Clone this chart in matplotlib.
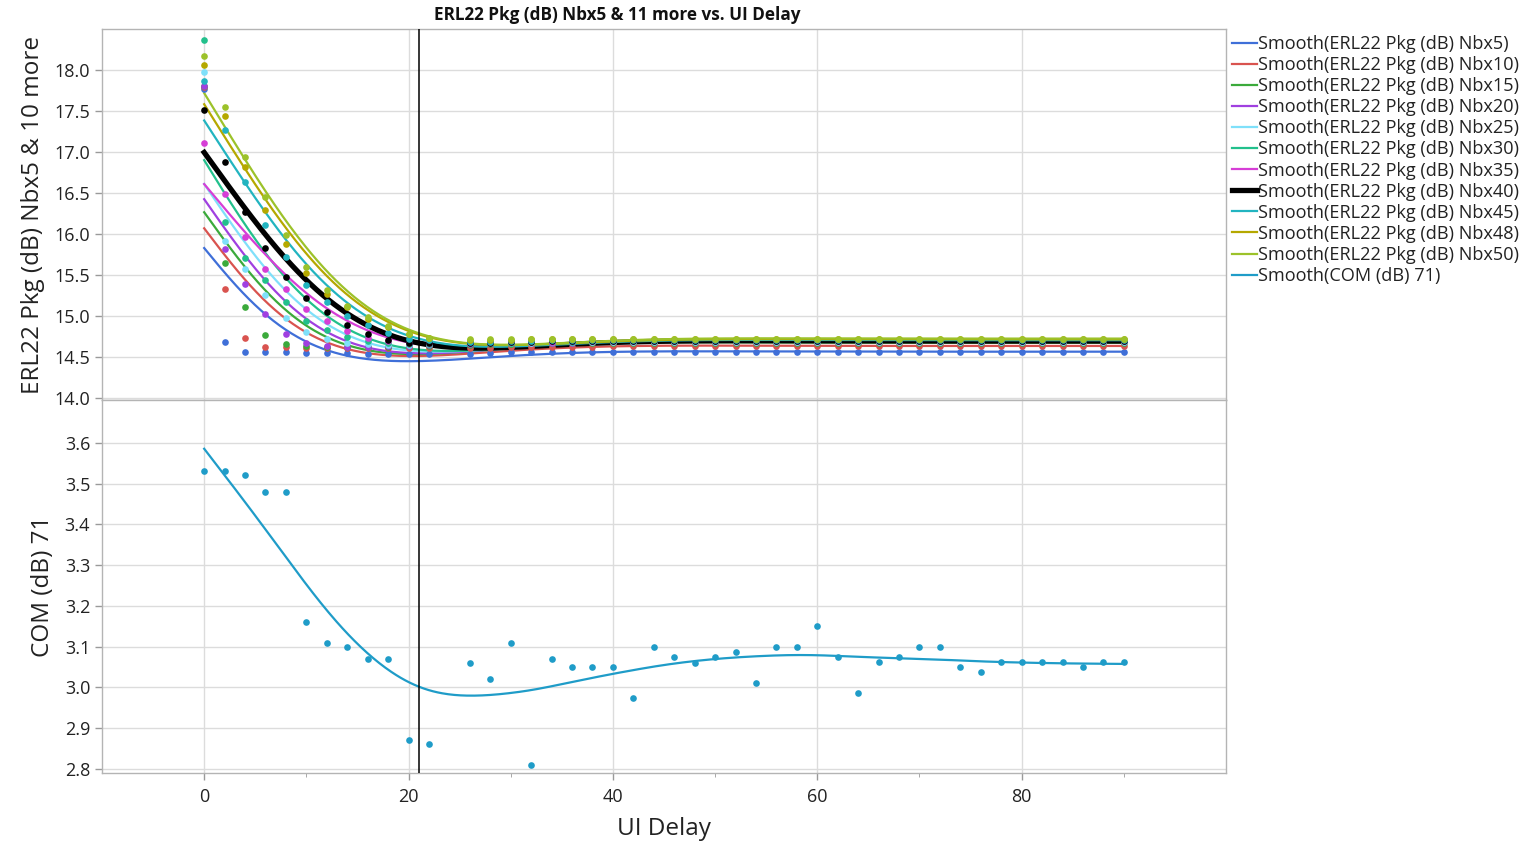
import numpy as np
import matplotlib
matplotlib.use('Agg')
import matplotlib.pyplot as plt
from matplotlib.lines import Line2D

plt.rcParams['font.family'] = ['Open Sans', 'DejaVu Sans']

# ---------------- data ----------------
ui_delay = [0, 2, 4, 6, 8, 10, 12, 14, 16, 18, 20, 22,
            26, 28, 30, 32, 34, 36, 38, 40, 42, 44, 46, 48, 50, 52, 54, 56, 58,
            60, 62, 64, 66, 68, 70, 72, 74, 76, 78, 80, 82, 84, 86, 88, 90]

nbx5 = [17.77, 14.68, 14.55, 14.55, 14.55, 14.54, 14.54, 14.54, 14.53, 14.53, 14.53, 14.53,
        14.53, 14.54, 14.55, 14.55, 14.55, 14.56, 14.56, 14.56, 14.56, 14.56, 14.56, 14.56,
        14.56, 14.56, 14.56, 14.56, 14.56, 14.56, 14.56, 14.56, 14.56, 14.56, 14.56, 14.56,
        14.56, 14.56, 14.56, 14.56, 14.56, 14.56, 14.56, 14.56, 14.56]
nbx10 = [17.79, 15.32, 14.73, 14.62, 14.62, 14.61, 14.61, 14.60, 14.60, 14.60, 14.60, 14.60,
         14.61, 14.61, 14.62, 14.62, 14.62, 14.62, 14.62, 14.63, 14.63, 14.63, 14.63, 14.63,
         14.63, 14.63, 14.63, 14.63, 14.63, 14.63, 14.63, 14.63, 14.63, 14.63, 14.63, 14.63,
         14.63, 14.63, 14.63, 14.63, 14.63, 14.63, 14.63, 14.63, 14.63]
nbx15 = [17.80, 15.64, 15.11, 14.76, 14.65, 14.63, 14.62, 14.62, 14.62, 14.62, 14.63, 14.63,
         14.64, 14.65, 14.65, 14.66, 14.66, 14.66, 14.67, 14.67, 14.67, 14.67, 14.67, 14.67,
         14.67, 14.67, 14.67, 14.67, 14.67, 14.67, 14.67, 14.67, 14.67, 14.67, 14.67, 14.67,
         14.67, 14.67, 14.67, 14.67, 14.67, 14.67, 14.67, 14.67, 14.67]
nbx20 = [17.81, 15.81, 15.39, 15.02, 14.77, 14.66, 14.63, 14.62, 14.62, 14.63, 14.63, 14.64,
         14.65, 14.66, 14.66, 14.67, 14.67, 14.67, 14.68, 14.68, 14.68, 14.68, 14.68, 14.68,
         14.68, 14.68, 14.68, 14.68, 14.68, 14.68, 14.68, 14.68, 14.68, 14.68, 14.68, 14.68,
         14.68, 14.68, 14.68, 14.68, 14.68, 14.68, 14.68, 14.68, 14.68]
nbx25 = [17.98, 15.91, 15.57, 15.25, 14.97, 14.80, 14.72, 14.67, 14.65, 14.64, 14.64, 14.65,
         14.66, 14.66, 14.67, 14.67, 14.68, 14.68, 14.68, 14.68, 14.68, 14.68, 14.68, 14.68,
         14.68, 14.68, 14.68, 14.68, 14.68, 14.68, 14.68, 14.68, 14.68, 14.68, 14.68, 14.68,
         14.68, 14.68, 14.68, 14.68, 14.68, 14.68, 14.68, 14.68, 14.68]
nbx30 = [18.37, 16.14, 15.70, 15.43, 15.17, 14.93, 14.82, 14.74, 14.69, 14.66, 14.65, 14.65,
         14.66, 14.67, 14.67, 14.68, 14.68, 14.68, 14.69, 14.69, 14.69, 14.69, 14.69, 14.69,
         14.69, 14.69, 14.69, 14.69, 14.69, 14.69, 14.69, 14.69, 14.69, 14.69, 14.69, 14.69,
         14.69, 14.69, 14.69, 14.69, 14.69, 14.69, 14.69, 14.69, 14.69]
nbx35 = [17.11, 16.48, 15.96, 15.57, 15.33, 15.08, 14.93, 14.81, 14.73, 14.69, 14.67, 14.66,
         14.67, 14.67, 14.68, 14.68, 14.68, 14.69, 14.69, 14.69, 14.69, 14.69, 14.69, 14.69,
         14.69, 14.69, 14.69, 14.69, 14.69, 14.69, 14.69, 14.69, 14.69, 14.69, 14.69, 14.69,
         14.69, 14.69, 14.69, 14.69, 14.69, 14.69, 14.69, 14.69, 14.69]
nbx40 = [17.51, 16.87, 16.27, 15.83, 15.47, 15.22, 15.05, 14.89, 14.78, 14.70, 14.66, 14.66,
         14.67, 14.67, 14.68, 14.68, 14.69, 14.69, 14.69, 14.69, 14.69, 14.69, 14.69, 14.69,
         14.69, 14.69, 14.69, 14.69, 14.69, 14.69, 14.69, 14.69, 14.69, 14.69, 14.69, 14.69,
         14.69, 14.69, 14.69, 14.69, 14.69, 14.69, 14.69, 14.69, 14.69]
nbx45 = [17.87, 17.27, 16.63, 16.11, 15.71, 15.38, 15.17, 15.00, 14.88, 14.79, 14.72, 14.70,
         14.68, 14.68, 14.69, 14.69, 14.70, 14.70, 14.70, 14.70, 14.70, 14.70, 14.70, 14.70,
         14.70, 14.70, 14.70, 14.70, 14.70, 14.70, 14.70, 14.70, 14.70, 14.70, 14.70, 14.70,
         14.70, 14.70, 14.70, 14.70, 14.70, 14.70, 14.70, 14.70, 14.70]
nbx48 = [18.06, 17.44, 16.81, 16.29, 15.87, 15.52, 15.27, 15.10, 14.96, 14.86, 14.78, 14.73,
         14.70, 14.70, 14.70, 14.71, 14.71, 14.71, 14.71, 14.71, 14.71, 14.71, 14.71, 14.71,
         14.71, 14.71, 14.71, 14.71, 14.71, 14.71, 14.71, 14.71, 14.71, 14.71, 14.71, 14.71,
         14.71, 14.71, 14.71, 14.71, 14.71, 14.71, 14.71, 14.71, 14.71]
nbx50 = [18.17, 17.55, 16.94, 16.45, 15.99, 15.60, 15.31, 15.12, 14.98, 14.87, 14.78, 14.73,
         14.71, 14.71, 14.71, 14.71, 14.72, 14.72, 14.72, 14.72, 14.72, 14.72, 14.72, 14.72,
         14.72, 14.72, 14.72, 14.72, 14.72, 14.72, 14.72, 14.72, 14.72, 14.72, 14.72, 14.72,
         14.72, 14.72, 14.72, 14.72, 14.72, 14.72, 14.72, 14.72, 14.72]
com71 = [3.53, 3.53, 3.52, 3.48, 3.48, 3.16, 3.11, 3.10, 3.07, 3.07, 2.87, 2.86,
         3.06, 3.02, 3.11, 2.81, 3.07, 3.05, 3.05, 3.05, 2.975, 3.10, 3.075, 3.06, 3.075,
         3.087, 3.012, 3.10, 3.10, 3.15, 3.075, 2.987, 3.062, 3.075, 3.10, 3.10, 3.05,
         3.037, 3.062, 3.062, 3.062, 3.062, 3.05, 3.062, 3.062]

top_names = ['Nbx5', 'Nbx10', 'Nbx15', 'Nbx20', 'Nbx25', 'Nbx30',
             'Nbx35', 'Nbx40', 'Nbx45', 'Nbx48', 'Nbx50']
top_series = [nbx5, nbx10, nbx15, nbx20, nbx25, nbx30, nbx35, nbx40, nbx45, nbx48, nbx50]
top_colors = ['#3F6FD8', '#D9534F', '#3BAA3B', '#A040E0', '#7FE0FA', '#22C08C',
              '#D63ED6', '#000000', '#22B4C0', '#B5A800', '#9CC22A']
com_color = '#1F9CC8'
ref_delay = 21
top_yticks = [14.0, 14.5, 15.0, 15.5, 16.0, 16.5, 17.0, 17.5, 18.0]
bot_yticks = [2.8, 2.9, 3.0, 3.1, 3.2, 3.3, 3.4, 3.5, 3.6]
x_major = [0, 20, 40, 60, 80]
x_minor = [10, 30, 50, 70, 90]


# ---------------- smoothing spline (cubic, penalised) ----------------
def smoothing_spline(x, y, lam, xs):
    x = np.asarray(x, float)
    y = np.asarray(y, float)
    n = len(x)
    h = np.diff(x)
    Q = np.zeros((n, n - 2))
    R = np.zeros((n - 2, n - 2))
    for j in range(1, n - 1):
        k = j - 1
        Q[j - 1, k] = 1 / h[j - 1]
        Q[j, k] = -1 / h[j - 1] - 1 / h[j]
        Q[j + 1, k] = 1 / h[j]
        R[k, k] = (h[j - 1] + h[j]) / 3
        if k + 1 < n - 2:
            R[k, k + 1] = h[j] / 6
            R[k + 1, k] = h[j] / 6
    gam = np.linalg.solve(R + lam * Q.T @ Q, Q.T @ y)
    g = y - lam * Q @ gam
    gamma = np.concatenate([[0.0], gam, [0.0]])
    idx = np.clip(np.searchsorted(x, xs, side='right') - 1, 0, n - 2)
    xl, xr = x[idx], x[idx + 1]
    hi = xr - xl
    a = xs - xl
    b = xr - xs
    return (a * g[idx + 1] + b * g[idx]) / hi - a * b / 6 * (
        (1 + a / hi) * gamma[idx + 1] + (1 + b / hi) * gamma[idx])


xarr = np.asarray(ui_delay, float)
lam = 0.03 * np.std(xarr, ddof=1) ** 3
xs = np.linspace(xarr.min(), xarr.max(), 600)

# ---------------- figure ----------------
W, H = 1534, 844
fig = plt.figure(figsize=(W / 100, H / 100), dpi=100)
left, right = 102 / W, 1226 / W
ax1 = fig.add_axes([left, 1 - 400 / H, right - left, 371 / H])
ax2 = fig.add_axes([left, 1 - 773 / H, right - left, 373 / H], sharex=ax1)

grid_c = '#DCDCDC'
spine_c = '#B4B4B4'
tick_kw = dict(labelsize=13, colors='#9A9A9A', labelcolor='#222222', length=5, width=1)

for ax in (ax1, ax2):
    ax.set_facecolor('white')
    for s in ax.spines.values():
        s.set_color(spine_c)
        s.set_linewidth(1)
    ax.grid(True, which='major', color=grid_c, lw=1)
    ax.set_axisbelow(True)
    ax.tick_params(axis='both', which='major', **tick_kw)
    ax.tick_params(axis='x', which='minor', length=3, colors='#9A9A9A')
    ax.axvline(ref_delay, color='black', lw=1.1, zorder=5)

for name, ys, c in zip(top_names, top_series, top_colors):
    lw = 3.8 if name == 'Nbx40' else 1.6
    ax1.plot(xs, smoothing_spline(xarr, ys, lam, xs), color=c, lw=lw, zorder=3)
    ax1.plot(xarr, ys, 'o', color=c, ms=4.8, mec='none', zorder=4)

ax2.plot(xs, smoothing_spline(xarr, com71, lam, xs), color=com_color, lw=1.6, zorder=3)
ax2.plot(xarr, com71, 'o', color=com_color, ms=4.8, mec='none', zorder=4)

ax1.set_xlim(-10, 100)
ax1.set_ylim(13.97, 18.5)
ax2.set_ylim(2.79, 3.705)
ax1.set_yticks(top_yticks)
ax2.set_yticks(bot_yticks)
ax1.yaxis.set_major_formatter(plt.FormatStrFormatter('%.1f'))
ax2.yaxis.set_major_formatter(plt.FormatStrFormatter('%.1f'))
ax2.set_xticks(x_major)
ax2.set_xticks(x_minor, minor=True)
ax1.tick_params(axis='x', which='both', bottom=False, labelbottom=False)
ax2.tick_params(axis='x', which='major', pad=6)

ax1.set_ylabel('ERL22 Pkg (dB) Nbx5 & 10 more', fontsize=17.5, color='#222222', labelpad=7)
ax2.set_ylabel('COM (dB) 71', fontsize=17.5, color='#222222', labelpad=7)
ax2.set_xlabel('UI Delay', fontsize=17.5, color='#222222', labelpad=8)
fig.align_ylabels([ax1, ax2])

fig.text(617 / W, 1 - 15 / H, 'ERL22 Pkg (dB) Nbx5 & 11 more vs. UI Delay',
         ha='center', va='center', fontsize=12.3, fontweight='bold', color='#111111')

handles = []
labels = []
for name, c in zip(top_names, top_colors):
    handles.append(Line2D([], [], color=c, lw=3.8 if name == 'Nbx40' else 1.6))
    labels.append(f'Smooth(ERL22 Pkg (dB) {name})')
handles.append(Line2D([], [], color=com_color, lw=1.6))
labels.append('Smooth(COM (dB) 71)')
fig.legend(handles, labels, loc='upper left', bbox_to_anchor=(1232 / W, 1 - 35 / H),
           frameon=False, fontsize=13.1, handlelength=1.35, handletextpad=0.1,
           labelspacing=0.17, borderaxespad=0, borderpad=0, labelcolor='#222222')

fig.savefig('out.png', dpi=100, facecolor='white')
